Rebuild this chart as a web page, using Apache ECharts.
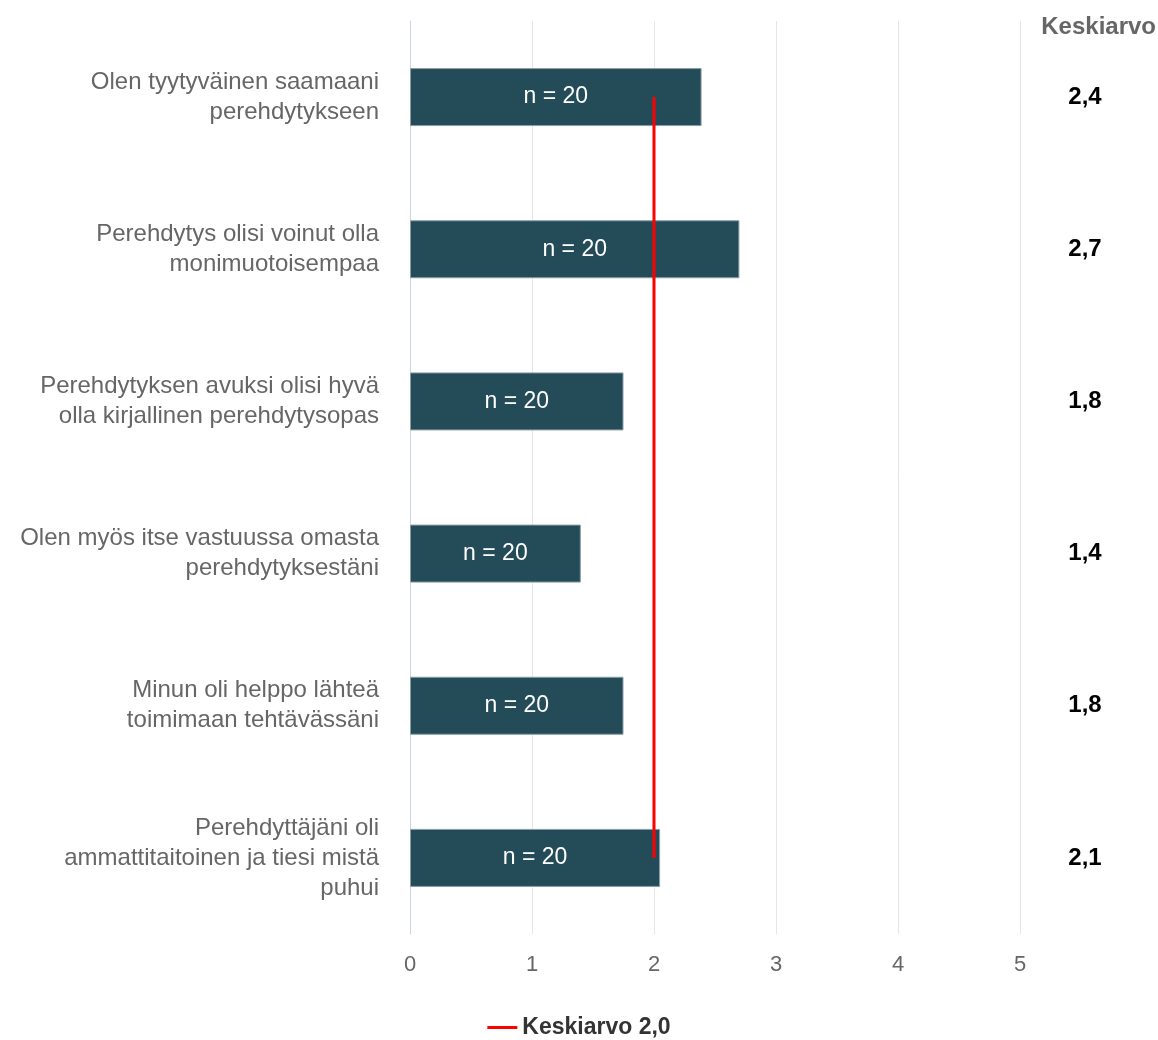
<!DOCTYPE html>
<html><head><meta charset="utf-8">
<script src="https://cdn.jsdelivr.net/npm/echarts@6/dist/echarts.min.js"></script>
<style>html,body{margin:0;padding:0;background:#fff}#c{width:1158px;height:1040px}</style>
</head><body><div id="c"></div>
<script>
const categories = [
  "Olen tyytyväinen saamaani\nperehdytykseen",
  "Perehdytys olisi voinut olla\nmonimuotoisempaa",
  "Perehdytyksen avuksi olisi hyvä\nolla kirjallinen perehdytysopas",
  "Olen myös itse vastuussa omasta\nperehdytyksestäni",
  "Minun oli helppo lähteä\ntoimimaan tehtävässäni",
  "Perehdyttäjäni oli\nammattitaitoinen ja tiesi mistä\npuhui"
];
const values = [2.39, 2.7, 1.75, 1.4, 1.75, 2.05];
const nLabels = ["n = 20", "n = 20", "n = 20", "n = 20", "n = 20", "n = 20"];
const meanLabels = ["2,4", "2,7", "1,8", "1,4", "1,8", "2,1"];
const averageValue = 2.0;
const averageName = "Keskiarvo 2,0";
const meanHeader = "Keskiarvo";
const xTicks = [0, 1, 2, 3, 4, 5];

const chart = echarts.init(document.getElementById('c'), null, {renderer: 'canvas'});
const font = '"Liberation Sans", Arial, sans-serif';
chart.setOption({
  animation: false,
  textStyle: {fontFamily: font},
  grid: {left: 410, right: 138, top: 21, bottom: 106, containLabel: false},
  xAxis: {
    type: 'value', min: xTicks[0], max: xTicks[xTicks.length - 1], interval: 1,
    axisLine: {show: false}, axisTick: {show: false},
    splitLine: {show: true, lineStyle: {color: '#e6e6e6', width: 1}},
    axisLabel: {color: '#666', fontSize: 22, margin: 20, fontFamily: font,
      formatter: v => String(v)}
  },
  yAxis: [{
    type: 'category', data: categories, inverse: true,
    axisLine: {show: true, lineStyle: {color: '#ccd6eb', width: 1}},
    axisTick: {show: false},
    axisLabel: {color: '#666', fontSize: 24, lineHeight: 30, margin: 31, align: 'right', fontFamily: font}
  }, {
    type: 'category', data: meanLabels, inverse: true, position: 'right',
    axisLine: {show: false}, axisTick: {show: false},
    axisLabel: {color: '#000', fontSize: 24, fontWeight: 'bold', margin: 65, align: 'center', fontFamily: font}
  }],
  legend: {
    top: 1011, left: 'center', itemWidth: 30, itemHeight: 3, itemGap: 10,
    data: [{name: averageName, icon: 'rect'}],
    textStyle: {color: '#333', fontSize: 23, fontWeight: 'bold', fontFamily: font},
    selectedMode: false
  },
  graphic: [{
    type: 'text', right: 2, top: 15,
    style: {text: meanHeader, fill: '#666', font: 'bold 24px ' + font}
  }],
  series: [{
    type: 'bar', data: values, barWidth: 58, yAxisIndex: 0,
    itemStyle: {color: '#234b58', borderColor: '#8a9ea6', borderWidth: 1},
    label: {show: true, position: 'inside', color: '#fff', fontSize: 23, fontFamily: font,
      formatter: p => nLabels[p.dataIndex]},
    silent: true
  }, {
    type: 'line', name: averageName, data: categories.map(() => averageValue), yAxisIndex: 0,
    showSymbol: false, symbol: 'none',
    lineStyle: {color: '#ff0000', width: 3}, itemStyle: {color: '#ff0000'},
    z: 5
  }]
});
</script></body></html>
